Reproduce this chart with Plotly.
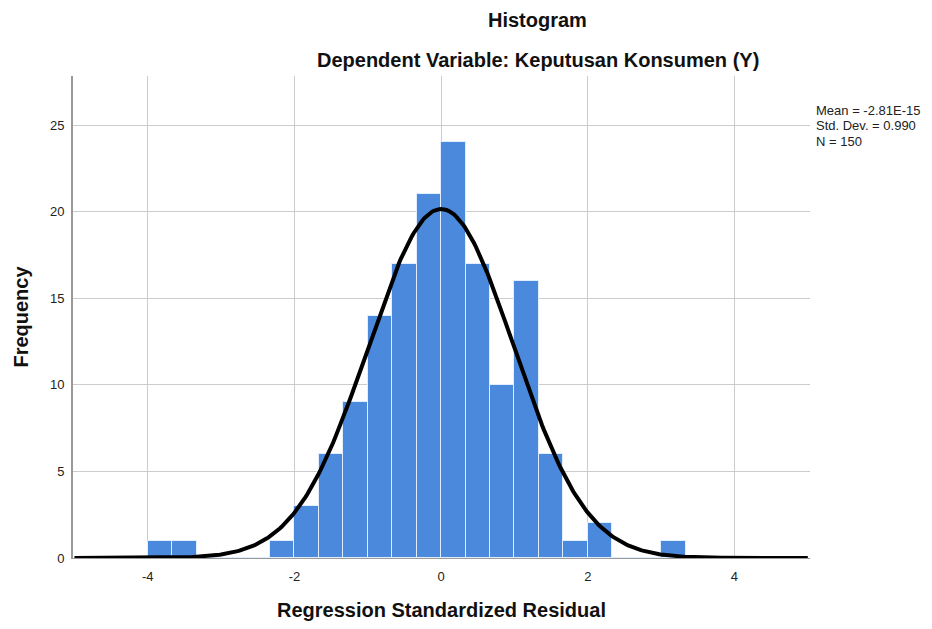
import numpy as np
import plotly.graph_objects as go

# Data
bin_width = 1 / 3
bin_starts = [-4.0, -11/3, -10/3, -3.0, -8/3, -7/3, -2.0, -5/3, -4/3, -1.0, -2/3, -1/3,
              0.0, 1/3, 2/3, 1.0, 4/3, 5/3, 2.0, 7/3, 8/3, 3.0]
counts = [1, 1, 0, 0, 0, 1, 3, 6, 9, 14, 17, 21,
          24, 17, 10, 16, 6, 1, 2, 0, 0, 1]
stat_mean = -2.81e-15
stat_sd = 0.990
stat_n = 150
stat_lines = ["Mean = -2.81E-15", "Std. Dev. = 0.990", "N = 150"]
x_ticks = [-4, -2, 0, 2, 4]
y_ticks = [0, 5, 10, 15, 20, 25]

centers = [s + bin_width / 2 for s in bin_starts]

# Normal curve defined by the chart's stated statistics
xc = np.linspace(-5, 5, 401)
yc = stat_n * bin_width * np.exp(-0.5 * ((xc - stat_mean) / stat_sd) ** 2) / (stat_sd * np.sqrt(2 * np.pi))

fig = go.Figure()
fig.add_trace(go.Bar(
    x=centers, y=counts, width=bin_width,
    marker=dict(color="rgb(74,137,220)", line=dict(color="rgba(225,238,255,1)", width=1)),
    hoverinfo="x+y",
))
fig.add_trace(go.Scatter(
    x=xc, y=yc, mode="lines", line=dict(color="black", width=4),
    hoverinfo="skip",
))

# plot area in page pixels: x 71..810, y 76..558 (page has 8px body offset)
H_PLOT = 482.0
def py(p):
    return (558 - p) / H_PLOT

annotations = [
    dict(text="<b>Histogram</b>", x=1.32, xref="x", y=py(20), yref="paper",
         xanchor="center", yanchor="middle", showarrow=False, font=dict(size=20, color="#111")),
    dict(text="<b>Dependent Variable: Keputusan Konsumen (Y)</b>", x=1.32, xref="x",
         y=py(60), yref="paper",
         xanchor="center", yanchor="middle", showarrow=False, font=dict(size=20, color="#111")),
]
for i, line in enumerate(stat_lines):
    annotations.append(dict(text=line, x=1.006, xref="paper", y=py(111 + 15 * i), yref="paper",
                            xanchor="left", yanchor="middle", align="left", showarrow=False,
                            font=dict(size=13, color="#222")))

font_family = "Liberation Sans, Arial, sans-serif"
fig.update_layout(
    width=932, height=629,
    margin=dict(l=63, r=130, t=68, b=79),
    paper_bgcolor="white", plot_bgcolor="white",
    showlegend=False,
    bargap=0,
    font=dict(family=font_family, color="#222", size=13),
    xaxis=dict(
        range=[-5.02, 5.03], tickvals=x_ticks, ticktext=[str(t) for t in x_ticks],
        showgrid=True, gridcolor="#cccccc", gridwidth=1,
        zeroline=False, showline=True, linecolor="#999999", linewidth=1,
        ticks="outside", ticklen=6, tickcolor="rgba(0,0,0,0)", tickfont=dict(size=13, color="#222"),
        title=dict(text="<b>Regression Standardized Residual</b>", font=dict(size=20, color="#111"), standoff=20),
    ),
    yaxis=dict(
        range=[0, 27.83], tickvals=y_ticks, ticktext=[str(t) for t in y_ticks],
        showgrid=True, gridcolor="#cccccc", gridwidth=1,
        zeroline=False, showline=True, linecolor="#999999", linewidth=2,
        ticks="outside", ticklen=4, tickcolor="rgba(0,0,0,0)", tickfont=dict(size=13, color="#222"),
        title=dict(text="<b>Frequency</b>", font=dict(size=20, color="#111"), standoff=16),
    ),
    annotations=annotations,
)

fig.write_html("out.html")
